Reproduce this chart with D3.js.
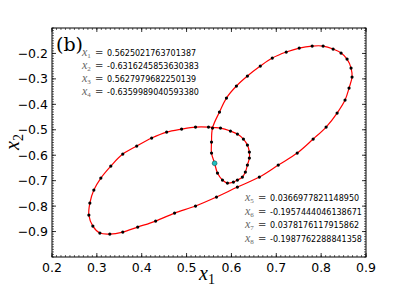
<!DOCTYPE html>
<html><head><meta charset="utf-8">
<script src="https://cdn.jsdelivr.net/npm/d3@7"></script>
<style>body{margin:0;background:#fff}svg{display:block}</style>
</head><body>
<svg id="c" width="407" height="287"></svg>
<script>
// Trajectory points (x1, x2), in order along the closed orbit
const orbitX = [0.5625,0.5556,0.5556,0.5578,0.5733,0.5889,0.6111,0.6356,0.6644,0.6911,0.7222,0.7511,0.78,0.8044,0.8267,0.8444,0.8578,0.8667,0.8689,0.8622,0.8533,0.8356,0.8111,0.7822,0.7467,0.7044,0.6622,0.6133,0.5667,0.52,0.4733,0.4311,0.3911,0.3578,0.3289,0.3067,0.2911,0.2822,0.2844,0.2933,0.3089,0.3311,0.3578,0.3889,0.4222,0.4556,0.4889,0.52,0.5489,0.5756,0.5978,0.6133,0.6267,0.6356,0.64,0.64,0.6356,0.6311,0.6244,0.6133,0.6044,0.5911,0.58,0.5689];
const orbitY = [-0.6316,-0.5915,-0.5483,-0.4932,-0.4303,-0.3753,-0.3281,-0.2888,-0.2495,-0.2181,-0.1945,-0.1788,-0.1709,-0.1709,-0.1827,-0.1984,-0.222,-0.2574,-0.2928,-0.336,-0.3832,-0.4343,-0.4893,-0.5365,-0.5915,-0.6387,-0.6858,-0.7252,-0.7645,-0.7998,-0.8274,-0.8588,-0.8824,-0.9021,-0.91,-0.906,-0.8785,-0.8353,-0.7881,-0.737,-0.6898,-0.6426,-0.5955,-0.564,-0.5325,-0.509,-0.4972,-0.4893,-0.4893,-0.4932,-0.505,-0.5168,-0.5365,-0.5601,-0.5876,-0.6112,-0.6387,-0.6663,-0.6858,-0.6976,-0.7055,-0.7094,-0.6976,-0.6701];
const startPoint = [0.5625021763701387, -0.6316245853630383];
const xTicks = [0.2,0.3,0.4,0.5,0.6,0.7,0.8,0.9];
const yTicks = [-0.2,-0.3,-0.4,-0.5,-0.6,-0.7,-0.8,-0.9];
const infoTop = [["1","0.5625021763701387"],["2","-0.6316245853630383"],["3","0.5627979682250139"],["4","-0.6359989040593380"]];
const infoBottom = [["5","0.0366977821148950"],["6","-0.1957444046138671"],["7","0.0378176117915862"],["8","-0.1987762288841358"]];
const panelLabel = "(b)";

const svg = d3.select("#c");
const L=52,R=366,T=28,B=257;
const x = d3.scaleLinear().domain([0.2,0.9]).range([L,R]);
const y = d3.scaleLinear().domain([-1.0,-0.1]).range([B,T]);

// minor & major ticks, inward, all sides
const minorX = d3.range(20,91).map(d=>d/100);
const minorY = d3.range(-100,-9).map(d=>d/100);
const g = svg.append("g").attr("stroke","#000").attr("stroke-width",0.6);
minorX.forEach(v=>{
  g.append("line").attr("x1",x(v)).attr("x2",x(v)).attr("y1",B).attr("y2",B-2);
  g.append("line").attr("x1",x(v)).attr("x2",x(v)).attr("y1",T).attr("y2",T+2);
});
minorY.forEach(v=>{
  g.append("line").attr("y1",y(v)).attr("y2",y(v)).attr("x1",L).attr("x2",L+2);
  g.append("line").attr("y1",y(v)).attr("y2",y(v)).attr("x1",R).attr("x2",R-2);
});
const gm = svg.append("g").attr("stroke","#000").attr("stroke-width",0.8);
xTicks.forEach(v=>{
  gm.append("line").attr("x1",x(v)).attr("x2",x(v)).attr("y1",B).attr("y2",B-4);
  gm.append("line").attr("x1",x(v)).attr("x2",x(v)).attr("y1",T).attr("y2",T+4);
});
yTicks.forEach(v=>{
  gm.append("line").attr("y1",y(v)).attr("y2",y(v)).attr("x1",L).attr("x2",L+4);
  gm.append("line").attr("y1",y(v)).attr("y2",y(v)).attr("x1",R).attr("x2",R-4);
});

// frame
svg.append("rect").attr("x",L).attr("y",T).attr("width",R-L).attr("height",B-T)
  .attr("fill","none").attr("stroke","#000").attr("stroke-width",1);

// tick labels
const fmt = d=>d3.format(".1f")(d).replace("-","\u2212");
svg.append("g").selectAll("text").data(xTicks).join("text")
  .attr("x",d=>x(d)).attr("y",B+15).attr("text-anchor","middle")
  .attr("font-family","DejaVu Sans").attr("font-size",12.5).text(fmt);
svg.append("g").selectAll("text").data(yTicks).join("text")
  .attr("x",L-4).attr("y",d=>y(d)+4.5).attr("text-anchor","end")
  .attr("font-family","DejaVu Sans").attr("font-size",12.5).text(fmt);

// axis labels
const xl = svg.append("text").attr("x",207).attr("y",280).attr("font-family","Liberation Serif")
  .attr("font-style","italic").attr("font-size",20).attr("text-anchor","middle");
xl.append("tspan").text("x");
xl.append("tspan").attr("font-size",14).attr("font-style","normal").attr("dy",4).text("1");
const yl = svg.append("text").attr("transform","translate(19,142) rotate(-90)").attr("font-family","Liberation Serif")
  .attr("font-style","italic").attr("font-size",20).attr("text-anchor","middle");
yl.append("tspan").text("x");
yl.append("tspan").attr("font-size",14).attr("font-style","normal").attr("dy",4).text("2");

// orbit
const pts = orbitX.map((v,i)=>[v,orbitY[i]]);
svg.append("path").datum(pts)
  .attr("d",d3.line().x(d=>x(d[0])).y(d=>y(d[1])).curve(d3.curveCatmullRomClosed.alpha(0.5)))
  .attr("fill","none").attr("stroke","#ff0000").attr("stroke-width",1.2);
svg.append("g").selectAll("circle").data(pts.slice(1)).join("circle")
  .attr("cx",d=>x(d[0])).attr("cy",d=>y(d[1])).attr("r",1.6).attr("fill","#000");
svg.append("circle").attr("cx",x(startPoint[0])).attr("cy",y(startPoint[1])).attr("r",2.4)
  .attr("fill","#20c0c0").attr("stroke","#105050").attr("stroke-width",0.6);

// panel label
svg.append("text").attr("x",56).attr("y",51).attr("font-family","DejaVu Serif")
  .attr("font-size",19).text(panelLabel);

// info text
function info(rows, x0, y0, dy, numX){
  rows.forEach((r,i)=>{
    const t = svg.append("text").attr("x",x0).attr("y",y0+i*dy).attr("fill","#666")
      .attr("font-family","Liberation Serif").attr("font-style","italic").attr("font-size",12);
    t.append("tspan").text("x");
    t.append("tspan").attr("font-size",7).attr("font-style","normal").attr("dy",2).text(r[0]);
    svg.append("text").attr("x",x0+13).attr("y",y0+i*dy).attr("fill","#555")
      .attr("font-family","DejaVu Sans").attr("font-size",10).text("=");
    svg.append("text").attr("x",numX).attr("y",y0+i*dy).attr("fill","#000")
      .attr("font-family","DejaVu Sans").attr("font-size",8).text(r[1]);
  });
}
info(infoTop, 82, 56, 13, 107);
info(infoBottom, 245, 201, 13.5, 270);
</script>
</body></html>
